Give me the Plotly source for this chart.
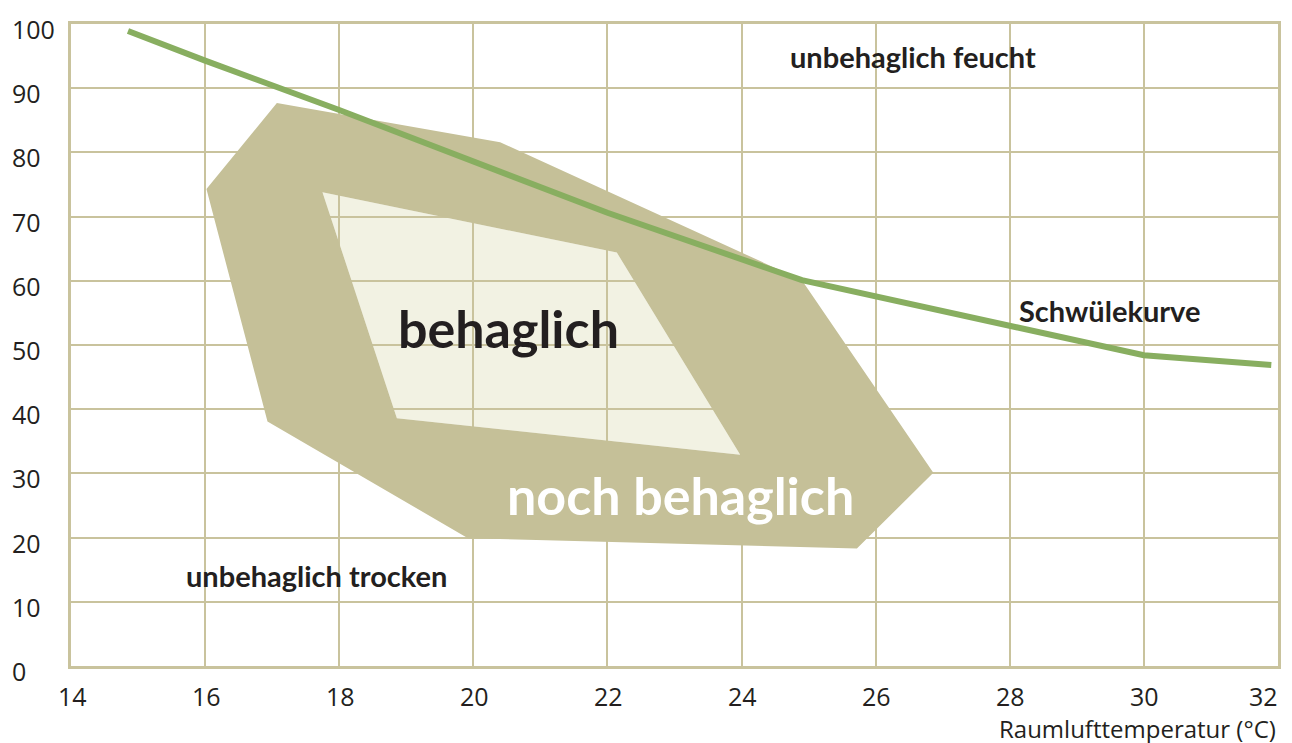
import plotly.graph_objects as go

# ---------------- data ----------------
x_ticks = [14, 16, 18, 20, 22, 24, 26, 28, 30, 32]
y_ticks = [0, 10, 20, 30, 40, 50, 60, 70, 80, 90, 100]

# Schwülekurve (temperature °C, relative humidity %)
schwuele_temp = [14.85, 16.0, 18.0, 20.0, 22.0, 24.9, 30.0, 31.9]
schwuele_rh = [98.9, 94.3, 86.6, 78.6, 70.6, 60.1, 48.4, 46.9]

# "noch behaglich" outer boundary
outer_temp = [17.07, 20.40, 24.90, 26.86, 25.72, 19.92, 16.93, 16.02]
outer_rh = [87.7, 81.6, 60.1, 30.1, 18.3, 19.9, 38.1, 74.3]

# "behaglich" inner boundary
inner_temp = [17.75, 22.14, 23.98, 18.86]
inner_rh = [73.8, 64.4, 32.9, 38.6]

# ---------------- styles ----------------
GRID = "#c9c39d"
RING = "#c5c098"
INNER = "#f2f2e3"
GREEN = "#88ae60"
TEXT = "#231f20"

fig = go.Figure()

# ring (outer polygon with inner hole, reversed winding)
inner_rev_t = inner_temp[::-1]
inner_rev_h = inner_rh[::-1]
ring_x = outer_temp + [outer_temp[0], None] + inner_rev_t + [inner_rev_t[0]]
ring_y = outer_rh + [outer_rh[0], None] + inner_rev_h + [inner_rev_h[0]]
fig.add_trace(go.Scatter(
    x=ring_x, y=ring_y, mode="lines", fill="toself",
    fillcolor=RING, line=dict(width=0, color=RING),
    hoverinfo="skip", showlegend=False, connectgaps=False,
))

# Schwülekurve
fig.add_trace(go.Scatter(
    x=schwuele_temp, y=schwuele_rh, mode="lines",
    line=dict(color=GREEN, width=6),
    hoverinfo="skip", showlegend=False,
))

# inner light area below the grid
path = "M " + " L ".join(f"{t},{h}" for t, h in zip(inner_temp, inner_rh)) + " Z"
shapes = [dict(type="path", path=path, xref="x", yref="y",
               fillcolor=INNER, line=dict(width=0), layer="below")]

tick_font = dict(family="Open Sans", size=25, color=TEXT)
annotations = []
# y tick labels (left aligned)
for v in y_ticks:
    annotations.append(dict(
        x=-0.0505, xref="paper", y=v, yref="y", text=str(v),
        showarrow=False, xanchor="left", yanchor="middle", yshift=-5,
        font=tick_font,
    ))
# x tick labels (last one kept inside the figure)
for i, v in enumerate(x_ticks):
    last = i == len(x_ticks) - 1
    annotations.append(dict(
        x=v, xref="x", y=-0.0505, yref="paper", text=str(v),
        showarrow=False, xanchor="right" if last else "center",
        yanchor="middle", xshift=2 if last else 1, yshift=2,
        font=tick_font,
    ))

# axis title
annotations.append(dict(
    x=1.0, xref="paper", y=-0.098, yref="paper",
    text="Raumlufttemperatur (°C)", showarrow=False,
    xanchor="right", yanchor="middle",
    font=dict(family="Open Sans", size=24, color=TEXT),
))

small = dict(family="Lato", size=29, color=TEXT, weight="bold")
big_dark = dict(family="Lato", size=52, color=TEXT, weight="bold")
big_white = dict(family="Lato", size=52, color="#ffffff", weight="bold")

labels = [
    ("<b>unbehaglich feucht</b>", 26.55, 95.0, small),
    ("<b>Schwülekurve</b>", 29.49, 55.4, small),
    ("<b>unbehaglich trocken</b>", 17.66, 14.15, small),
    ("<b>behaglich</b>", 20.52, 52.6, big_dark),
    ("<b>noch behaglich</b>", 23.09, 26.7, big_white),
]
for txt, x, y, f in labels:
    annotations.append(dict(
        x=x, y=y, xref="x", yref="y", text=txt, showarrow=False,
        xanchor="center", yanchor="middle", font=f,
    ))

fig.update_layout(
    width=1292, height=743,
    margin=dict(l=71, r=14, t=23.5, b=76.5, autoexpand=False),
    paper_bgcolor="white", plot_bgcolor="white",
    shapes=shapes, annotations=annotations,
    showlegend=False,
)
fig.update_xaxes(
    range=[14, 32], tickvals=x_ticks, showticklabels=False,
    showgrid=True, gridcolor=GRID, gridwidth=2,
    showline=True, linecolor=GRID, linewidth=2.5, mirror=True,
    zeroline=False, ticks="", automargin=False,
)
fig.update_yaxes(
    range=[0, 100], tickvals=y_ticks, showticklabels=False,
    showgrid=True, gridcolor=GRID, gridwidth=2,
    showline=True, linecolor=GRID, linewidth=2.5, mirror=True,
    zeroline=False, ticks="", automargin=False,
)

fig.write_html(
    "out.html",
    config={"displayModeBar": False},
    post_script="document.body.style.margin='0';document.body.style.overflow='hidden';",
)
